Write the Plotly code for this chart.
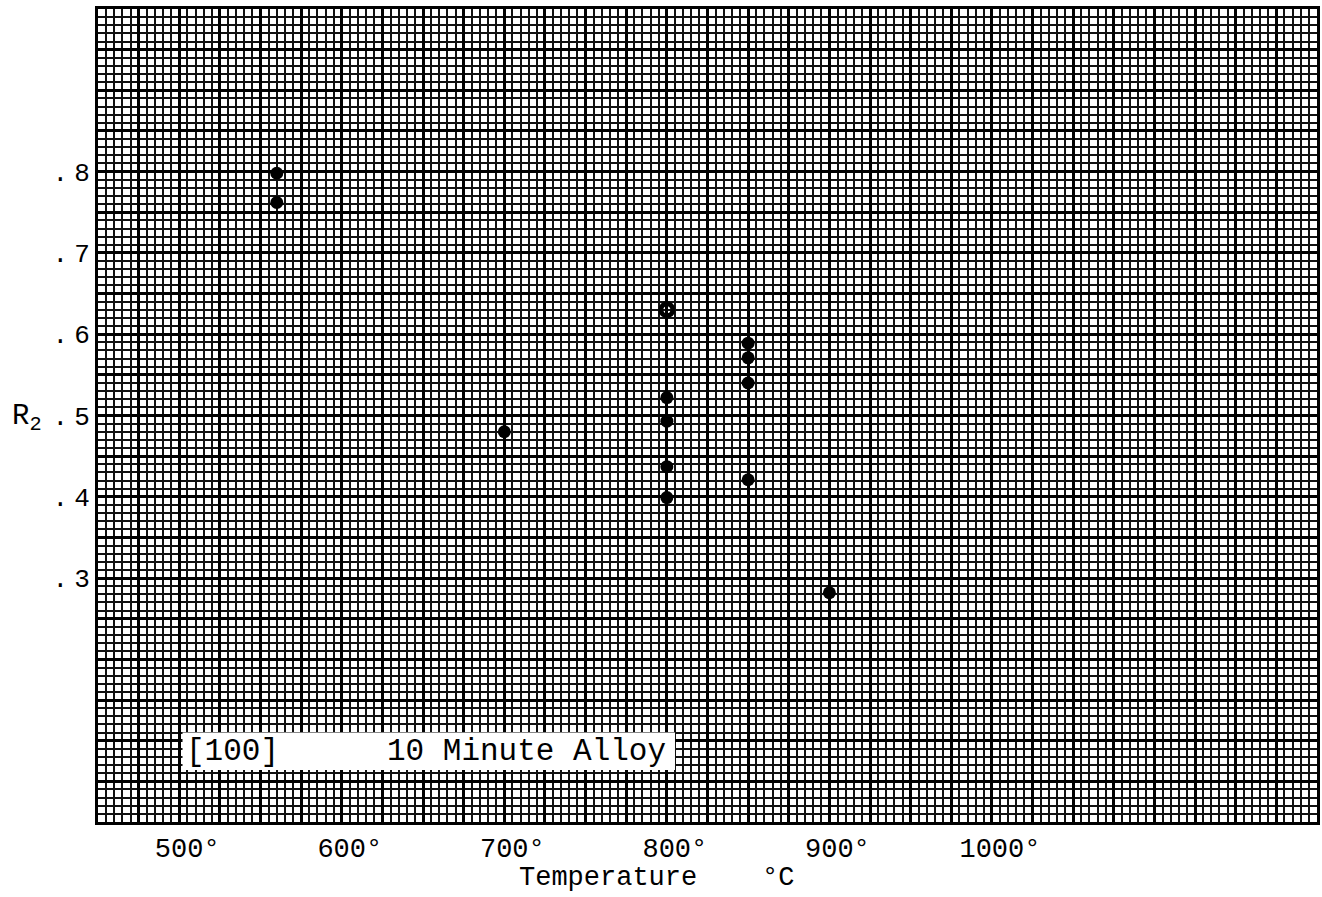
import plotly.graph_objects as go

# Data
temp_filled = [560, 560, 700, 800, 800, 800, 800, 850, 850, 850, 850, 900]
r2_filled = [0.798, 0.762, 0.480, 0.522, 0.493, 0.437, 0.399, 0.589, 0.571, 0.540, 0.421, 0.282]
temp_open = [800]
r2_open = [0.630]

x_tick_vals = [500, 600, 700, 800, 900, 1000]
x_tick_text = ["500°", "600°", "700°", "800°", "900°", "1000°"]
y_tick_vals = [0.3, 0.4, 0.5, 0.6, 0.7, 0.8]
y_tick_text = [".3", ".4", ".5", ".6", ".7", ".8"]

FONT = "Liberation Mono, DejaVu Sans Mono, monospace"

# heavy grid every 25 deg / 0.05, labels only where given
xgrid = list(range(450, 1201, 25))
xtext = [x_tick_text[x_tick_vals.index(v)] if v in x_tick_vals else "" for v in xgrid]
ygrid = [round(i * 0.05, 2) for i in range(0, 21)]
ytext = []
for v in ygrid:
    m = [t for tv, t in zip(y_tick_vals, y_tick_text) if abs(tv - v) < 1e-9]
    ytext.append(m[0].replace(".", ".<span style='font-size:10px'> </span>") if m else "")

fig = go.Figure()
fig.add_trace(go.Scatter(
    x=temp_filled, y=r2_filled, mode="markers",
    marker=dict(color="black", size=13, symbol="circle"),
    showlegend=False, hoverinfo="x+y"))
fig.add_trace(go.Scatter(
    x=temp_open, y=r2_open, mode="markers",
    marker=dict(color="black", size=12, symbol="circle-open", line=dict(width=5, color="black")),
    showlegend=False, hoverinfo="x+y"))

fig.update_xaxes(
    range=[450, 1200], tickmode="array", tickvals=xgrid, ticktext=xtext,
    showgrid=True, gridcolor="black", gridwidth=3,
    minor=dict(tick0=450, dtick=5, showgrid=True, gridcolor="#111111", gridwidth=2.1),
    showline=True, linecolor="black", linewidth=3, mirror=True,
    ticks="", zeroline=False,
    tickfont=dict(family=FONT, size=27, color="black"),
    ticklabelshift=8, ticklabelstandoff=0,
)
fig.update_yaxes(
    range=[0, 1], tickmode="array", tickvals=ygrid, ticktext=ytext,
    showgrid=True, gridcolor="black", gridwidth=3,
    minor=dict(tick0=0, dtick=0.01, showgrid=True, gridcolor="#111111", gridwidth=2.1),
    showline=True, linecolor="black", linewidth=3, mirror=True,
    ticks="", zeroline=False,
    tickfont=dict(family=FONT, size=26, color="black"),
    ticklabelstandoff=0,
)

# white label box
fig.add_shape(type="rect", xref="x", yref="y", x0=502, x1=805, y0=0.064, y1=0.110,
              fillcolor="white", line=dict(width=0), layer="above")
fig.add_annotation(text="[100]", xref="x", yref="y", x=503, y=0.087,
                   xanchor="left", yanchor="middle", showarrow=False,
                   font=dict(family=FONT, size=31, color="black"))
fig.add_annotation(text="10 Minute Alloy", xref="x", yref="y", x=801, y=0.087,
                   xanchor="right", yanchor="middle", showarrow=False,
                   font=dict(family=FONT, size=31, color="black"))

# axis titles
fig.add_annotation(text="R<sub>2</sub>", xref="paper", yref="y", x=-0.072, y=0.497,
                   xanchor="left", yanchor="middle", showarrow=False,
                   font=dict(family=FONT, size=29, color="black"))
fig.add_annotation(text="Temperature    °C", xref="paper", yref="paper", x=0.458, y=-0.069,
                   xanchor="center", yanchor="middle", showarrow=False,
                   font=dict(family=FONT, size=27, color="black"))

fig.update_layout(
    width=1322, height=897,
    margin=dict(l=98, r=2, t=9, b=75),
    paper_bgcolor="white", plot_bgcolor="white",
    showlegend=False,
)

fig.write_html("out.html")
